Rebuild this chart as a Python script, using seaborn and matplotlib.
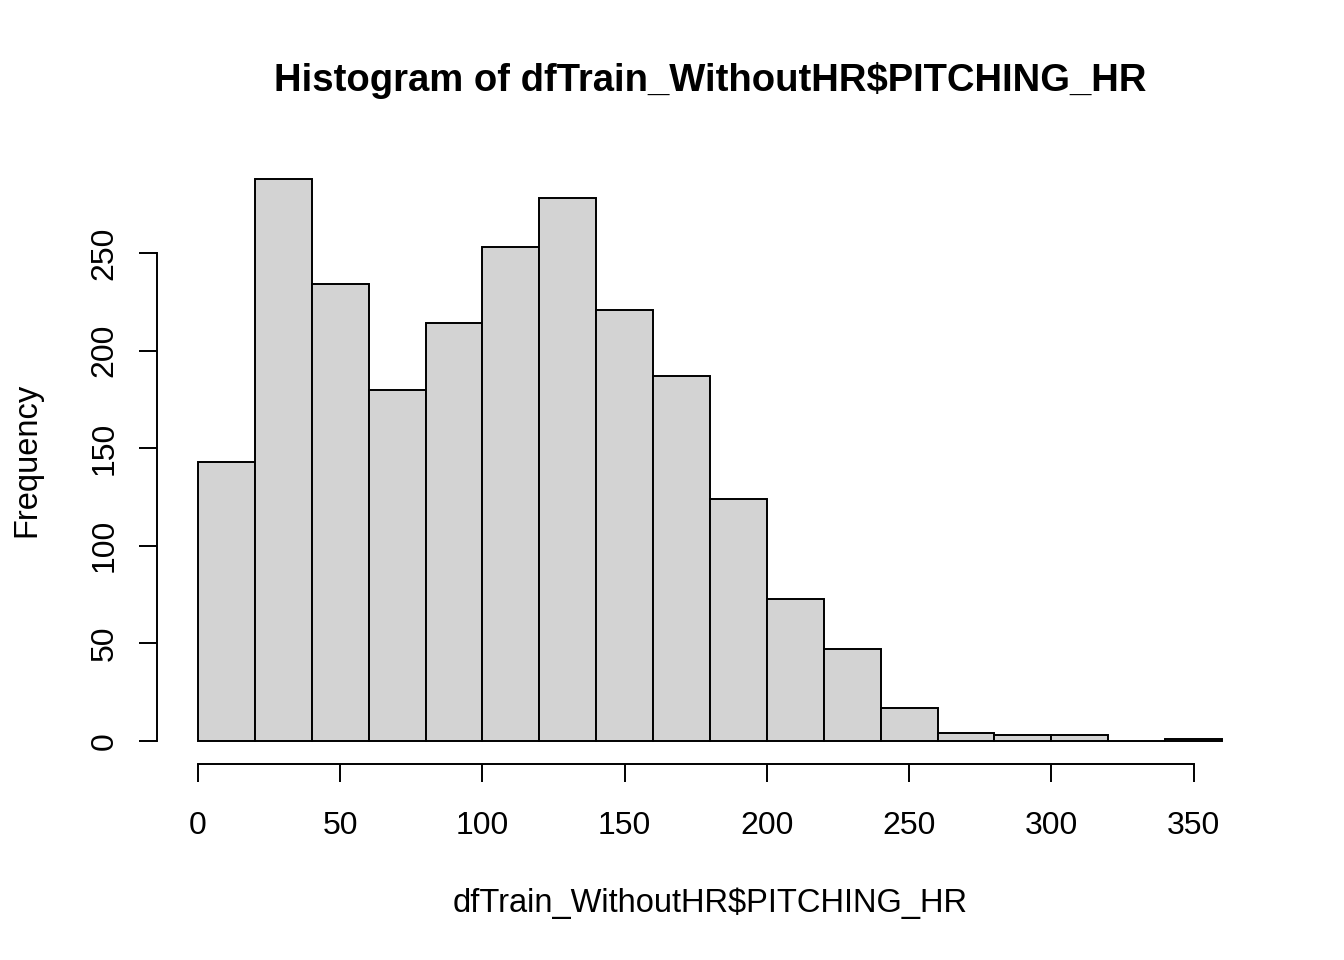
import numpy as np
import pandas as pd
import matplotlib
matplotlib.use("Agg")
import matplotlib.pyplot as plt
import seaborn as sns

# histogram bins (width 20) and counts
bin_edges = list(range(0, 380, 20))
counts = [143, 288, 234, 180, 214, 253, 278, 221, 187, 124, 73, 47, 17, 4, 3, 3, 0, 1]
x_ticks = [0, 50, 100, 150, 200, 250, 300, 350]
y_ticks = [0, 50, 100, 150, 200, 250]

df = pd.DataFrame({
    "mid": [(a + b) / 2 for a, b in zip(bin_edges[:-1], bin_edges[1:])],
    "count": counts,
})

sns.set_style("white")
plt.rcParams["font.family"] = ["Liberation Sans", "DejaVu Sans"]
plt.rcParams["text.color"] = "black"
plt.rcParams["axes.labelcolor"] = "black"
plt.rcParams["xtick.color"] = "black"
plt.rcParams["ytick.color"] = "black"

fig = plt.figure(figsize=(13.44, 9.6), dpi=100)
ax = fig.add_axes([157 / 1344, 1 - 763.5 / 960, (1263 - 157) / 1344, (763.5 - 156.3) / 960])

sns.histplot(data=df, x="mid", weights="count", bins=bin_edges, ax=ax,
             color="#D3D3D3", edgecolor="black", linewidth=1.4, alpha=1)

ax.set_xlim(-14.4, 374.4)
ax.set_ylim(-11.52, 299.52)

for s in ["top", "right"]:
    ax.spines[s].set_visible(False)
for s in ["left", "bottom"]:
    ax.spines[s].set_linewidth(1.4)
    ax.spines[s].set_color("black")
ax.spines["bottom"].set_bounds(x_ticks[0], x_ticks[-1])
ax.spines["left"].set_bounds(y_ticks[0], y_ticks[-1])

ax.set_xticks(x_ticks)
ax.set_yticks(y_ticks)
ax.tick_params(axis="both", bottom=True, left=True, length=13, width=1.4,
               color="black", labelcolor="black", labelsize=23, direction="out")
ax.tick_params(axis="x", pad=21)
ax.tick_params(axis="y", pad=14)
plt.setp(ax.get_yticklabels(), rotation=90, va="center")

ax.set_xlabel("dfTrain_WithoutHR$PITCHING_HR", fontsize=23.5, labelpad=34)
ax.set_ylabel("Frequency", fontsize=23.5, labelpad=34)
ax.set_title("Histogram of dfTrain_WithoutHR$PITCHING_HR", fontsize=27.5,
             fontweight="bold", pad=47, color="black")

fig.savefig("out.png", dpi=100)
